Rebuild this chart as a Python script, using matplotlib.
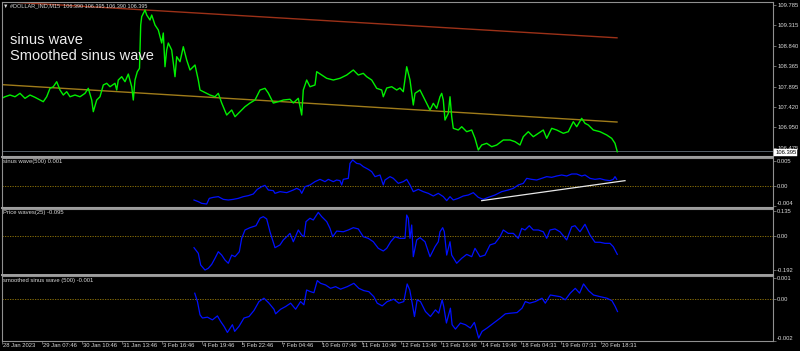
import matplotlib
matplotlib.use("Agg")
import matplotlib.pyplot as plt
from matplotlib.patches import Rectangle
from matplotlib.lines import Line2D

# ---------------- data ----------------
price_x = [1.7, 5, 10, 15, 20, 25, 30, 35, 40, 43.3, 46.7, 50, 53.3, 56.7, 60, 63.3, 66.7, 70, 75, 80,
           85, 88.3, 91.7, 93.3, 96.7, 100, 103.3, 106.7, 110, 115, 116.7, 118.3, 121.7, 125, 128.3, 131.7,
           133.3, 135, 137.3, 139.5, 140.7, 141.7, 145, 146.7, 150, 151.7, 155, 158.3, 160, 161.7, 163.3,
           165, 166.7, 168.3, 171.7, 175, 176.7, 180, 183.3, 186.7, 190, 195, 198.3, 200, 203.3, 210, 215,
           218.3, 221.7, 226.7, 231.7, 235, 240, 245, 250, 255, 260, 265, 268.3, 273.3, 278.3, 283.3, 290,
           293.3, 298.3, 301.7, 303.3, 306.7, 310, 315, 316.7, 321.7, 326.7, 333.3, 340, 346.7, 353.3,
           358.3, 363.3, 366.7, 371.7, 376.7, 381.7, 383.3, 386.7, 391.7, 396.7, 400, 403.3, 406.7, 410,
           413.3, 415, 420, 425, 430, 433.3, 436.7, 440, 441.7, 443.3, 445, 448.3, 450, 451.7, 453.3, 458.3,
           461.7, 466.7, 471.7, 475, 478.3, 481.7, 486.7, 491.7, 496.7, 503.3, 510, 515, 520, 523.3, 528.3,
           533.3, 538.3, 543.3, 546.7, 551.7, 556.7, 563.3, 568.3, 573.3, 576.7, 581.7, 585, 588.3, 593.3,
           600, 606.7, 611.7, 615, 617.3]
price_y = [107.624, 107.661, 107.701, 107.661, 107.740, 107.624, 107.701, 107.648, 107.585, 107.546,
           107.661, 107.856, 107.893, 108.009, 107.817, 107.701, 107.778, 107.661, 107.701, 107.661,
           107.740, 107.856, 107.585, 107.315, 107.585, 107.661, 107.933, 107.972, 107.893, 107.972,
           107.817, 108.048, 108.125, 108.009, 108.187, 107.893, 107.585, 108.048, 108.241, 108.319,
           109.322, 109.514, 109.669, 109.553, 109.437, 109.553, 109.322, 109.206, 109.051, 108.905,
           109.136, 108.356, 108.743, 108.905, 108.743, 108.125, 108.588, 108.472, 108.819, 108.511,
           108.280, 108.396, 108.048, 107.817, 107.778, 107.701, 107.661, 107.740, 107.516, 107.238,
           107.354, 107.199, 107.315, 107.431, 107.516, 107.585, 107.817, 107.856, 107.747, 107.516,
           107.546, 107.585, 107.602, 107.516, 107.625, 107.238, 107.817, 108.048, 107.893, 107.933,
           108.241, 108.164, 108.088, 108.048, 108.088, 108.164, 108.280, 108.164, 108.203, 108.125,
           108.048, 107.856, 107.817, 107.661, 107.863, 107.893, 107.817, 107.863, 107.778, 108.356,
           108.048, 107.470, 107.740, 107.817, 107.585, 107.354, 107.509, 107.393, 107.661, 107.740,
           107.585, 107.122, 107.277, 107.661, 107.199, 106.930, 106.891, 106.967, 106.852, 106.891,
           106.698, 106.428, 106.544, 106.583, 106.505, 106.544, 106.660, 106.660, 106.621, 106.544,
           106.736, 106.852, 106.736, 106.815, 106.891, 106.698, 106.930, 106.891, 106.815, 106.852,
           107.083, 106.967, 107.161, 107.046, 107.007, 106.891, 106.852, 106.776, 106.698, 106.583,
           106.389]

red_trend_x = [0, 617]
red_trend_y = [109.868, 109.025]
gold_trend_x = [0, 617]
gold_trend_y = [107.944, 107.076]
bid_price = 106.395

price_ticks = [109.785, 109.315, 108.840, 108.365, 107.895, 107.420, 106.950, 106.475]
price_tick_labels = ["109.785", "109.315", "108.840", "108.365", "107.895", "107.420", "106.950", "106.475"]

sin_x = [194, 198.3, 201.7, 206.7, 209.3, 213.3, 218.3, 223.3, 228.3, 233.3, 238.3, 243.3, 248.3, 253.3,
         257.3, 261.7, 265, 268.3, 273.3, 275, 280, 286.7, 293.3, 296.7, 300, 301.7, 305, 310, 315, 320,
         325, 328.3, 333.3, 336.7, 340, 341.7, 343.3, 348.3, 350, 352.7, 356.7, 360, 363.3, 368.3, 371.7,
         375, 380, 383.3, 385, 390, 393.3, 398.3, 403.3, 406.7, 410, 413.3, 418.3, 423.3, 428.3, 433.3,
         438.3, 443.3, 446.7, 450, 453.3, 458.3, 463.3, 468.3, 473.3, 478.3, 483.3, 488.3, 495, 501.7,
         508.3, 513.3, 518.3, 523.3, 526.7, 531.7, 536.7, 541.7, 546.7, 551.7, 556.7, 561.7, 566.7, 571.7,
         576.7, 581.7, 585, 590, 595, 600, 605, 610, 613.3, 615, 616.7]
sin_y = [-0.0028, -0.00313, -0.00347, -0.0036, -0.00247, -0.00227, -0.00213, -0.00267, -0.0028, -0.00267,
         -0.00247, -0.00213, -0.00193, -0.0016, -0.00067, -0.00013, 0.00013, -0.0008, -0.00093, -0.00147,
         -0.00113, -0.00133, -0.0008, -0.00047, -0.0008, -0.00147, -0.00013, 0.0002, 0.00087, 0.00133,
         0.00087, 0.00133, 0.00087, 0.0012, 0.00107, 0.0002, 0.00133, 0.00153, 0.00453, 0.0052, 0.00453,
         0.0044, 0.00387, 0.00333, 0.00287, 0.00187, 0.0022, 0.0002, 0.0012, 0.00187, 0.00153, 0.00053,
         0.00087, 0.00133, 0.0002, -0.00113, -0.00067, -0.00113, -0.00147, -0.002, -0.00147, -0.00213,
         -0.00293, -0.00213, -0.0028, -0.00247, -0.002, -0.0018, -0.00133, -0.00227, -0.00267, -0.00227,
         -0.0018, -0.00113, -0.0008, -0.00047, 0.0002, 0.00053, 0.00153, 0.00133, 0.0012, 0.00153, 0.00187,
         0.00173, 0.002, 0.0022, 0.002, 0.0024, 0.0024, 0.002, 0.0022, 0.00153, 0.00133, 0.00147, 0.0012,
         0.00107, 0.00133, 0.00187, 0.00133]
sin_trend_x = [481.7, 625]
sin_trend_y = [-0.00293, 0.00107]

pw_x = [194, 198.3, 200.7, 205, 208.3, 211.7, 215, 218.3, 221.7, 225, 228.3, 231.7, 235, 239.3, 241.7, 245,
        250, 256, 260, 263.3, 266.7, 270, 275, 280, 283.3, 286.7, 290, 293.3, 298.3, 301.7, 304, 306, 310,
        313.3, 318.3, 321.7, 326.7, 330, 332.7, 336.7, 343.3, 348.3, 353.3, 358.3, 363.3, 368.3, 373.3,
        378.3, 383.3, 386.7, 390.7, 395, 400, 405, 406.7, 408.3, 410, 411.7, 413.3, 416.7, 420, 425, 430,
        435, 438.3, 440, 442.7, 444.3, 446.7, 450, 451.7, 456.7, 461.7, 466.7, 471.7, 475, 480, 485, 490,
        495, 500, 503.3, 508.3, 513.3, 518.3, 521.7, 525, 529.3, 533.3, 538.3, 543.3, 546.7, 550, 555, 560,
        566.7, 571.7, 575, 580, 585, 590, 595, 600, 605, 610, 613.3, 617.3]
pw_y = [-0.0685, -0.100, -0.166, -0.194, -0.184, -0.162, -0.128, -0.091, -0.110, -0.138, -0.156, -0.110,
        -0.119, -0.091, -0.016, 0.031, 0.044, 0.055, 0.097, 0.106, 0.093, 0.021, -0.0685, -0.053, -0.025,
        -0.007, 0.012, -0.035, 0.031, 0.003, -0.007, 0.078, 0.097, 0.087, 0.130, 0.106, 0.078, 0.040,
        -0.007, 0.025, 0.021, 0.031, 0.044, 0.037, -0.007, -0.016, -0.035, -0.072, -0.087, -0.072, -0.035,
        -0.007, -0.016, -0.016, 0.115, 0.097, -0.016, 0.059, -0.119, -0.025, -0.012, -0.035, -0.119,
        -0.063, -0.035, 0.021, 0.044, 0.021, -0.110, -0.035, -0.110, -0.156, -0.128, -0.106, -0.119,
        -0.072, -0.119, -0.110, -0.053, -0.044, -0.007, 0.031, 0.012, 0.012, -0.016, 0.040, 0.031, 0.055,
        0.031, 0.031, 0.021, -0.016, 0.031, 0.037, 0.021, -0.025, 0.049, 0.055, 0.021, 0.063, 0.003,
        -0.038, -0.038, -0.044, -0.044, -0.063, -0.106]

sm_x = [194, 196.7, 199.3, 201.7, 206.7, 211.7, 216.7, 220, 223.3, 226.7, 231.7, 234, 238.3, 243.3, 248.3,
        253.3, 258.3, 263.3, 268.3, 273.3, 275, 280, 285, 290, 295, 300, 303.3, 306, 310, 313.3, 316.7, 320,
        325, 330, 335, 340, 346.7, 353.3, 358.3, 363.3, 368.3, 373.3, 376.7, 381.7, 386.7, 393.3, 398.3,
        403.3, 406.7, 409.3, 411.7, 414, 416.7, 420, 425, 430, 435, 438.3, 441.7, 443.3, 446, 450, 451.7,
        455, 460, 465, 470, 474, 478.3, 481.7, 486.7, 493.3, 500, 505, 510, 516.7, 521.7, 525, 529.3, 535,
        541.7, 545, 550, 555, 560, 565, 570, 575, 579.3, 583.3, 588.3, 593.3, 600, 606.7, 611.7, 615, 617.3]
sm_y = [0.000286, -0.000114, -0.00075, -0.0009, -0.00086, -0.00099, -0.0008, -0.00107, -0.0013, -0.00159,
        -0.00122, -0.00154, -0.0013, -0.0009, -0.00083, -0.00054, -0.000114, 0.000048, -0.00019, -0.00048,
        -0.0007, -0.00048, -0.00035, -0.00019, -0.00048, -0.000114, -0.00027, 0.00044, 0.00036, 0.00031,
        0.00089, 0.00076, 0.00068, 0.00052, 0.0006, 0.00048, 0.0006, 0.00076, 0.00052, 0.00041, 0.00036,
        0.00012, -0.00019, -0.00032, -0.000114, 0.0, -0.00019, -0.000114, 0.00073, 0.00044, -0.00019,
        -0.00083, -0.00003, -0.000114, -0.00059, -0.00083, -0.00051, -0.00067, -0.00003, -0.00035,
        -0.00114, -0.00043, -0.00122, -0.00143, -0.00114, -0.00122, -0.00138, -0.00111, -0.00186,
        -0.00154, -0.00138, -0.00114, -0.0009, -0.0007, -0.00067, -0.00064, -0.00043, -0.000114, -0.00019,
        -0.000114, 0.000048, -0.00019, 0.0002, 0.00016, 0.00012, -0.00003, 0.00029, 0.00052, 0.00029,
        0.00073, 0.00041, 0.0002, 0.00012, 0.000048, -0.00007, -0.00035, -0.00059]

time_tick_pos = [1, 41, 81, 121, 161, 201, 241, 281, 321, 361, 401, 441, 481, 521, 561, 601]
time_tick_labels = ["28 Jan 2023", "29 Jan 07:46", "30 Jan 10:46", "31 Jan 13:46", "3 Feb 16:46",
                    "4 Feb 19:46", "5 Feb 22:46", "7 Feb 04:46", "10 Feb 07:46", "11 Feb 10:46",
                    "12 Feb 13:46", "13 Feb 16:46", "14 Feb 19:46", "18 Feb 04:31", "19 Feb 07:31",
                    "20 Feb 18:31"]

# ---------------- style ----------------
W, H = 800, 351
BG = "#000000"
GRID = "#909090"
TXT = "#d8d8d8"
SMALL = dict(family=["Liberation Sans", "DejaVu Sans"], fontsize=4.2, color=TXT)

fig = plt.figure(figsize=(W / 100, H / 100), dpi=100, facecolor=BG)


def rect(l, t, r, b):
    return [l / W, 1 - b / H, (r - l) / W, (b - t) / H]


def ftext(x, y, s, **kw):
    fig.text(x / W, 1 - y / H, s, **kw)


def style(ax, ylim, yt=None, ytl=None):
    ax.set_facecolor(BG)
    ax.set_xlim(2, 773)
    ax.set_ylim(*ylim)
    for s in ax.spines.values():
        s.set_color(GRID)
        s.set_linewidth(0.8)
    ax.set_xticks([])
    ax.yaxis.tick_right()
    if yt is not None:
        ax.set_yticks(yt)
        ax.set_yticklabels(ytl, **SMALL)
        ax.tick_params(axis="y", length=2, width=0.5, color=GRID, pad=1)
    else:
        ax.set_yticks([])


# main
ax = fig.add_axes(rect(2, 1.7, 773, 155.5))
style(ax, (106.301, 109.861), price_ticks, price_tick_labels)
ax.plot(red_trend_x, red_trend_y, color="#9c3118", lw=1.0)
ax.plot(gold_trend_x, gold_trend_y, color="#a07c1a", lw=1.0)
ax.axhline(bid_price, color="#56606a", lw=0.7)
ax.plot(price_x, price_y, color="#00f000", lw=1.0)
ftext(3, 5.5, "\u25bc #DOLLAR_IND,M15  106.390 106.395 106.390 106.395", va="center", ha="left",
      family=["Liberation Sans", "DejaVu Sans"], fontsize=4.0, color=TXT)
ftext(10, 43.5, "sinus wave", va="baseline", ha="left", family=["Liberation Sans"], fontsize=10.5,
      color="#ececec")
ftext(10, 60, "Smoothed sinus wave", va="baseline", ha="left", family=["Liberation Sans"], fontsize=10.5,
      color="#ececec")
# bid price box
fig.patches.append(Rectangle((774 / W, 1 - 156 / H), 23 / W, 7 / H, transform=fig.transFigure,
                             facecolor="white", edgecolor="white", lw=0.3))
ftext(775.5, 152.5, "106.395", va="center", ha="left", family=["Liberation Sans"], fontsize=4.2,
      color="black")

# panel 2: sinus wave
ax2 = fig.add_axes(rect(2, 157.5, 773, 207))
style(ax2, (-0.0042, 0.0057), [0.005, 0.0, -0.004], ["0.005", "0.00", "-0.004"])
ax2.axhline(0, color="#9a7d0a", lw=0.6, ls=(0, (1.5, 1.5)))
ax2.plot(sin_x, sin_y, color="#0010ff", lw=0.9)
ax2.plot(sin_trend_x, sin_trend_y, color="#e8e8e8", lw=0.9)
ax2.get_yticklabels()[-1].set_va("bottom")
ftext(3, 162, "sinus wave(500) 0.001", va="center", ha="left", **SMALL)

# panel 3: price waves
ax3 = fig.add_axes(rect(2, 209, 773, 274.7))
style(ax3, (-0.2202, 0.1489), [0.135, 0.0, -0.192], ["0.135", "0.00", "-0.192"])
ax3.axhline(0, color="#9a7d0a", lw=0.6, ls=(0, (1.5, 1.5)))
ax3.plot(pw_x, pw_y, color="#0010ff", lw=0.9)
ftext(3, 213, "Price waves(25) -0.095", va="center", ha="left", **SMALL)

# panel 4: smoothed sinus wave
ax4 = fig.add_axes(rect(2, 276, 773, 341))
style(ax4, (-0.001986, 0.00111), [0.001, 0.0, -0.002], ["0.001", "0.00", "-0.002"])
ax4.axhline(0, color="#9a7d0a", lw=0.6, ls=(0, (1.5, 1.5)))
ax4.plot(sm_x, sm_y, color="#0010ff", lw=0.9)
ax4.get_yticklabels()[-1].set_va("bottom")
ftext(3, 280.5, "smoothed sinus wave (500) -0.001", va="center", ha="left", **SMALL)

# time axis
ax4.set_xticks(time_tick_pos)
ax4.set_xticklabels([""] * len(time_tick_pos))
ax4.tick_params(axis="x", length=2.5, width=0.5, color=GRID, direction="out")
for p, lab in zip(time_tick_pos, time_tick_labels):
    ax4.text(p + 0.8, -0.035, lab, transform=ax4.get_xaxis_transform(), va="top", ha="left",
             clip_on=False, **SMALL)

# panel separators (thicker gray bands)
for y in (156.5, 208.0, 275.2):
    fig.add_artist(Line2D([2 / W, 773 / W], [1 - y / H, 1 - y / H], transform=fig.transFigure,
                          color="#a0a0a0", lw=1.4))

fig.savefig("out.png", dpi=100, facecolor=BG)
